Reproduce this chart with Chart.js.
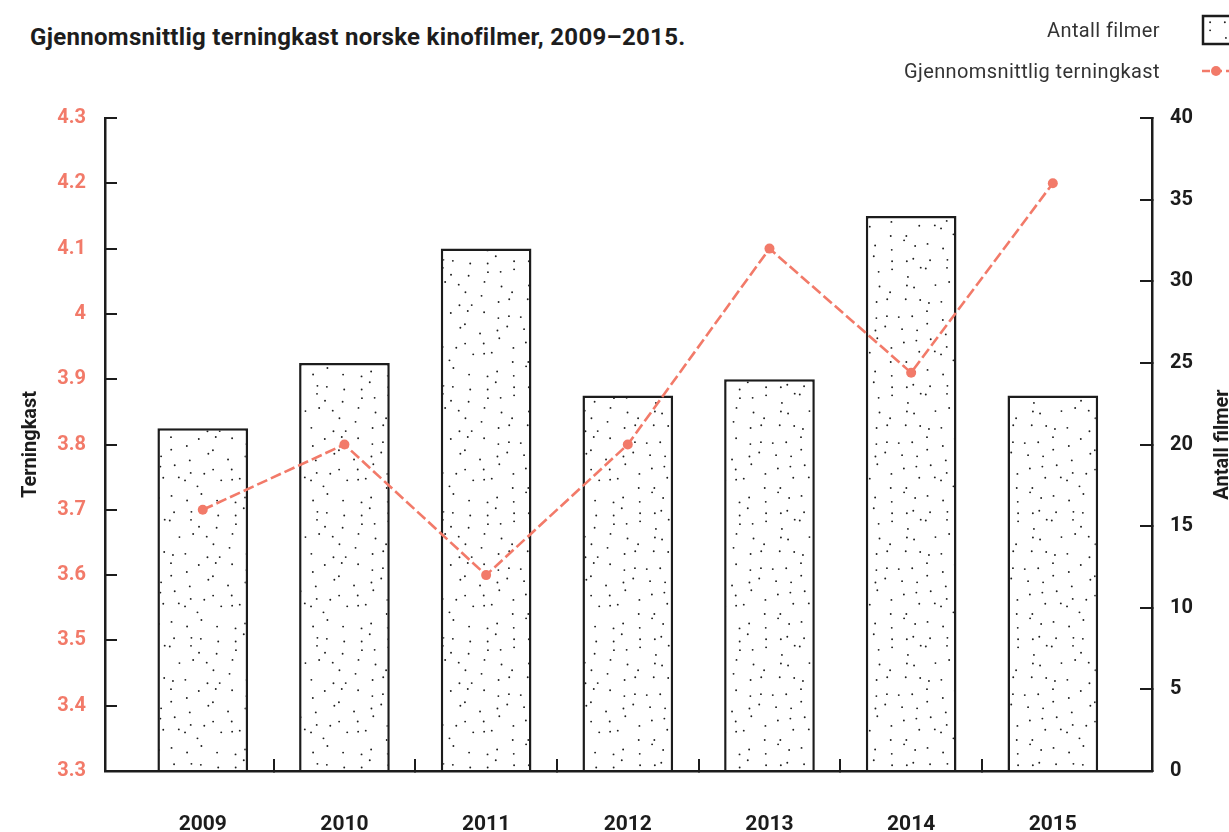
<!DOCTYPE html>
<html>
<head>
<meta charset="utf-8">
<title>Gjennomsnittlig terningkast norske kinofilmer</title>
<script src="https://cdn.jsdelivr.net/npm/chart.js@4.4.1/dist/chart.umd.min.js"></script>
<style>
  html, body { margin: 0; padding: 0; background: #fff; }
  #wrap { position: relative; width: 1229px; height: 832px; overflow: hidden; font-family: Roboto, sans-serif; }
  #chart { position: absolute; left: 0; top: 0; }
  h1 { position: absolute; left: 30px; top: 21px; margin: 0; font-size: 24px; letter-spacing: 0.3px; line-height: 32px; font-weight: 700; color: #1d1d1d; white-space: nowrap; }
  .legend-text { position: absolute; right: 69px; font-size: 20px; letter-spacing: 0.4px; color: #333; line-height: 26px; white-space: nowrap; }
  .legend-sym { position: absolute; left: 1200px; }
</style>
</head>
<body>
<div id="wrap">
  <h1>Gjennomsnittlig terningkast norske kinofilmer, 2009–2015.</h1>
  <canvas id="chart" width="1229" height="832"></canvas>
  <div id="legend"></div>
</div>
<script>
// data
const years = ['2009', '2010', '2011', '2012', '2013', '2014', '2015'];
const antallFilmer = [21, 25, 32, 23, 24, 34, 23];
const terningkast = [3.70, 3.80, 3.60, 3.80, 4.10, 3.91, 4.20];

// axis ranges
const terningMin = 3.3, terningMax = 4.3, terningStep = 0.1;
const filmMin = 0, filmMax = 40, filmStep = 5;

const salmon = '#f27a69';
const ink = '#1c1c1c';

/**
 * Tile of scattered dots used as the bar fill (texture only).
 * One jittered dot per cell so the stipple looks even.
 */
function makeDotTile(cells, cell) {
    const size = cells * cell;
    const c = document.createElement('canvas');
    c.width = c.height = size;
    const g = c.getContext('2d');
    g.fillStyle = '#fff';
    g.fillRect(0, 0, size, size);
    g.fillStyle = '#1e1e1e';
    // mulberry32, fixed seed so the texture is always the same
    let a = 20151009;
    const rnd = () => {
        a |= 0; a = a + 0x6D2B79F5 | 0;
        let t = Math.imul(a ^ a >>> 15, 1 | a);
        t = t + Math.imul(t ^ t >>> 7, 61 | t) ^ t;
        return ((t ^ t >>> 14) >>> 0) / 4294967296;
    };
    for (let r = 0; r < cells; r++) {
        for (let k = 0; k < cells; k++) {
            const x = (k + 0.1 + rnd() * 0.8) * cell;
            const y = (r + 0.1 + rnd() * 0.8) * cell;
            g.beginPath();
            g.arc(x, y, 0.95, 0, Math.PI * 2);
            g.fill();
        }
    }
    return c;
}

const canvas = document.getElementById('chart');
const ctx = canvas.getContext('2d');
const dotTile = makeDotTile(9, 14);
const dotPattern = ctx.createPattern(dotTile, 'repeat');

// right axis title reads bottom-to-top like the left one
const rightTitle = {
    id: 'rightTitle',
    afterDraw(chart) {
        const s = chart.scales.y1;
        const c = chart.ctx;
        c.save();
        c.translate(s.right - 6, (s.top + s.bottom) / 2);
        c.rotate(-Math.PI / 2);
        c.font = '700 20px Roboto';
        c.fillStyle = ink;
        c.textAlign = 'center';
        c.textBaseline = 'middle';
        c.fillText(s.options.title.text, 0, 0);
        c.restore();
    }
};

const chart = new Chart(ctx, {
    type: 'bar',
    data: {
        datasets: [
            {
                type: 'line',
                label: 'Gjennomsnittlig terningkast',
                data: terningkast.map((v, i) => ({ x: i, y: v })),
                yAxisID: 'y',
                borderColor: salmon,
                borderWidth: 2.6,
                borderDash: [11, 4],
                pointRadius: 5,
                pointBackgroundColor: salmon,
                pointBorderWidth: 0,
                tension: 0,
                order: 0
            },
            {
                type: 'bar',
                label: 'Antall filmer',
                data: antallFilmer.map((v, i) => ({ x: i, y: v })),
                yAxisID: 'y1',
                backgroundColor: dotPattern,
                borderColor: ink,
                borderWidth: 2.5,
                borderSkipped: 'bottom',
                barPercentage: 0.8,
                categoryPercentage: 0.8,
                order: 1
            }
        ]
    },
    options: {
        responsive: false,
        animation: false,
        layout: { padding: { top: 118, left: 0, right: 0, bottom: 0 } },
        plugins: {
            legend: { display: false },
            tooltip: { enabled: false }
        },
        scales: {
            x: {
                type: 'linear',
                min: -0.69,
                max: 6.7,
                offset: false,
                afterBuildTicks: (scale) => {
                    scale.ticks = years.map((_, i) => ({ value: i }));
                },
                afterFit: (scale) => { scale.height = 61; },
                ticks: {
                    padding: 53,
                    color: ink,
                    font: { family: 'Roboto', size: 21, weight: '700' },
                    callback: (v) => years[Math.round(v)]
                },
                grid: {
                    offset: true,
                    drawOnChartArea: false,
                    drawTicks: true,
                    tickLength: -12,
                    lineWidth: 2,
                    color: (c) => (c.index >= 1 && c.index <= 6) ? ink : 'rgba(0,0,0,0)'
                },
                border: { display: true, color: ink, width: 2.5 }
            },
            y: {
                position: 'left',
                min: terningMin,
                max: terningMax,
                afterBuildTicks: (scale) => {
                    const t = [];
                    for (let v = terningMin; v <= terningMax + 1e-9; v += terningStep) t.push({ value: +v.toFixed(1) });
                    scale.ticks = t;
                },
                afterFit: (scale) => { scale.width = 105; },
                ticks: {
                    padding: 31,
                    color: salmon,
                    font: { family: 'Roboto', size: 20, weight: '700' },
                    callback: (v) => String(+v.toFixed(1))
                },
                title: {
                    display: true,
                    text: 'Terningkast',
                    color: ink,
                    padding: { top: 19, bottom: 0 },
                    font: { family: 'Roboto', size: 20, weight: '700' }
                },
                grid: {
                    drawOnChartArea: false,
                    tickLength: -12,
                    lineWidth: 2,
                    color: ink
                },
                border: { display: true, color: ink, width: 2.5 }
            },
            y1: {
                position: 'right',
                min: filmMin,
                max: filmMax,
                ticks: {
                    stepSize: filmStep,
                    padding: 30,
                    color: ink,
                    font: { family: 'Roboto', size: 20, weight: '700' }
                },
                afterFit: (scale) => { scale.width = 77; },
                title: { display: false, text: 'Antall filmer' },
                grid: {
                    drawOnChartArea: false,
                    tickLength: -12,
                    lineWidth: 2,
                    color: ink
                },
                border: { display: true, color: ink, width: 2.5 }
            }
        }
    },
    plugins: [rightTitle]
});

/**
 * HTML legend on the top right, symbol after the text
 */
function buildLegend() {
    const box = document.getElementById('legend');
    const rows = [
        { ds: chart.data.datasets[1], y: 30 },
        { ds: chart.data.datasets[0], y: 71 }
    ];
    rows.forEach(row => {
        const text = document.createElement('div');
        text.className = 'legend-text';
        text.textContent = row.ds.label;
        text.style.top = (row.y - 13) + 'px';
        box.appendChild(text);

        const sym = document.createElement('canvas');
        sym.className = 'legend-sym';
        sym.width = 40;
        sym.height = 34;
        sym.style.top = (row.y - 17) + 'px';
        const g = sym.getContext('2d');
        if (row.ds.type === 'bar') {
            g.fillStyle = g.createPattern(dotTile, 'repeat');
            g.fillRect(3, 3, 34, 28);
            g.strokeStyle = ink;
            g.lineWidth = 2.5;
            g.strokeRect(3, 3, 34, 28);
        } else {
            g.strokeStyle = salmon;
            g.lineWidth = 2.5;
            g.setLineDash([8, 4]);
            g.beginPath();
            g.moveTo(2, 17);
            g.lineTo(40, 17);
            g.stroke();
            g.fillStyle = salmon;
            g.beginPath();
            g.arc(16, 17, 5, 0, Math.PI * 2);
            g.fill();
        }
        box.appendChild(sym);
    });
}
buildLegend();
</script>
</body>
</html>
